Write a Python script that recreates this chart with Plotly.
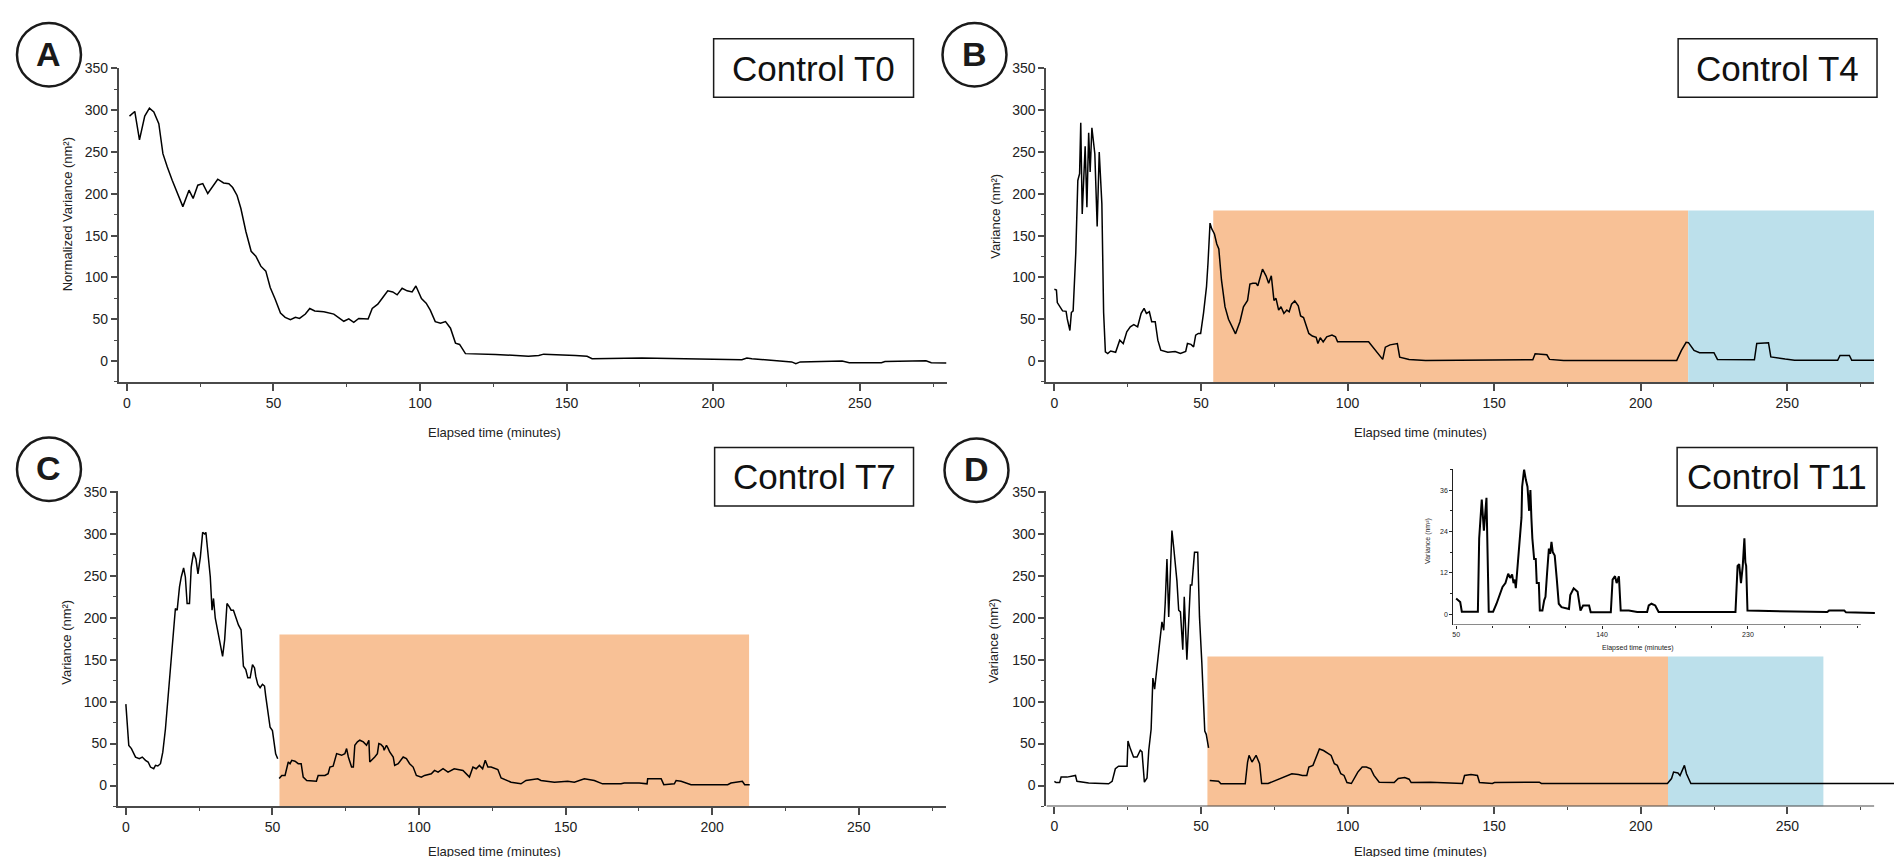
import plotly.graph_objects as go

W, H = 1902, 857

# ---- data (time in minutes, variance in nm^2) ----
a_t = [0.9, 2.7, 4.3, 6.1, 7.7, 9.2, 10.9, 12.3, 13.8, 15.5,
       19.1, 21.2, 22.6, 24.2, 25.9, 27.6, 31.0, 33.0, 34.8, 36.1,
       37.6, 38.9, 40.6, 42.4, 44.0, 45.7, 47.4, 48.9, 50.6, 52.4,
       54.0, 55.8, 57.5, 58.9, 60.9, 62.4, 64.1, 67.2, 70.6, 72.3,
       74.0, 75.7, 77.4, 79.1, 82.3, 83.7, 85.6, 87.3, 89.0, 90.7,
       92.2, 93.9, 95.6, 97.3, 98.6, 100.5, 102.1, 103.5, 105.2, 107.0,
       108.7, 110.4, 112.1, 113.5, 115.5, 125.7, 137.0, 140.5, 142.2, 153.0,
       157.0, 158.7, 175.7, 209.8, 211.5, 213.2, 226.8, 228.2, 229.7, 244.0,
       246.4, 257.4, 258.6, 272.6, 274.4, 279.6]
a_v = [293, 298.5, 264.5, 293, 302.5, 298, 284, 248, 232, 216,
       184.7, 204.4, 194.5, 210.3, 212.3, 200.4, 217.5, 213, 212, 207.5,
       198, 182.4, 155, 131.3, 125.4, 113.5, 107.6, 88, 74, 57.4,
       52.3, 49.5, 52.3, 51, 56.2, 62.9, 60, 59, 56.2, 52.3,
       47.6, 50.4, 46.4, 51, 50.4, 62.9, 68, 76, 84, 82.7,
       79.2, 87.1, 84, 82.7, 89.8, 74.8, 69.2, 60.9, 47.2, 45.2,
       47.2, 39.3, 21.5, 19.9, 8.9, 8, 5.7, 6.8, 8.3, 6.8,
       5.7, 2.9, 3.6, 1.6, 3.6, 2.9, -1, -3, -1, 0,
       -2, -2, -0.6, 0.4, -2, -2.4]

b_t = [0, 0.7, 1.0, 1.8, 2.8, 4.0, 4.4, 5.3, 5.8, 6.4,
       7.3, 8.0, 8.6, 9.0, 9.5, 10.5, 11.1, 11.7, 12.2, 12.8,
       13.8, 14.6, 15.3, 16.2, 16.8, 17.4, 18.2, 19.2, 20.9, 22.3,
       23.5, 24.7, 25.9, 27.1, 28.4, 29.6, 30.6, 31.4, 32.4, 33.2,
       34.4, 35.3, 36.3, 38.7, 41.2, 43.0, 44.8, 45.4, 46.6, 47.5,
       48.2, 49.1, 49.9, 50.9, 51.9, 52.4, 53.1, 53.7, 54.6, 55.4,
       56.1, 57.0, 57.6, 58.2, 59.4, 60.7, 61.8, 63.3, 64.5, 65.9,
       66.7, 67.7, 68.8, 69.4, 70.1, 71.0, 72.2, 73.1, 74.0, 74.9,
       75.6, 76.5, 77.3, 78.3, 79.3, 80.1, 80.9, 82.0, 83.2, 84.0,
       85.0, 86.0, 86.8, 88.0, 89.3, 89.9, 90.7, 91.7, 92.9, 94.7,
       95.9, 96.6, 107.2, 112.0, 112.9, 114.5, 117.0, 117.8, 121.0, 126.6,
       163.2, 164.0, 168.0, 168.9, 173.7, 212.3, 213.9, 215.5, 216.3, 218.2,
       220.1, 225.0, 226.2, 238.8, 239.6, 243.6, 244.4, 249.3, 252.5, 267.2,
       268.0, 271.2, 272.0, 279.6]
b_v = [85.8, 85, 70, 66, 60, 59.5, 50.4, 36.6, 58, 60,
       129, 216, 224, 285, 176, 257, 184, 273, 226, 279,
       248, 161, 250, 188, 58, 11, 9, 12, 10.5, 25,
       21, 35, 41, 43.5, 41, 57, 63, 57, 59, 47,
       47, 25, 13, 10.5, 11.5, 9, 11.5, 21, 20, 17,
       31, 33, 33, 58, 89, 117, 165, 158, 152, 140,
       134, 97, 79, 65, 50, 40, 32.6, 47, 65, 72.5,
       92, 93, 93, 90, 100, 110, 102, 93, 102, 72.5,
       75, 61, 65, 57, 61, 59, 68, 72, 66, 54,
       52, 42, 33, 30, 28.5, 21, 28, 23, 29, 31,
       29, 23, 23, 2, 16.6, 19.4, 21, 4.6, 2, 0.8,
       1.6, 8.7, 7.5, 2, 0.8, 0.8, 12.7, 22.5, 22, 12.7,
       10, 10, 2, 1.6, 21, 22, 5, 2.4, 1, 1,
       6.7, 6.7, 1, 1]

# panel C: trace before and after the treatment start
c_t1 = [0, 1.0, 1.9, 3.3, 4.6, 5.6, 6.7, 7.6, 8.4, 9.5,
        10.1, 10.9, 11.8, 12.6, 13.5, 14.4, 15.2, 16.1, 16.9, 17.5,
        18.3, 18.9, 19.7, 20.3, 20.9, 21.7, 22.3, 23.1, 23.9, 24.6,
        25.4, 26.2, 26.9, 27.3, 28.0, 28.8, 29.4, 29.9, 30.5, 31.4,
        32.2, 33.0, 33.7, 34.5, 35.3, 35.9, 36.7, 37.5, 38.4, 39.3,
        40.1, 40.9, 41.6, 42.4, 43.2, 43.9, 44.3, 45.0, 45.8, 46.6,
        47.3, 47.7, 48.6, 49.2, 50.0, 50.6, 51.1, 51.8]
c_v1 = [97, 47.7, 44, 33.9, 32, 33.9, 30, 28, 22, 20,
        24, 23.3, 26, 39.8, 67.4, 106.8, 146, 185.6, 211, 209,
        236.8, 248.6, 259.3, 248.6, 217, 217, 260.4, 278, 270, 252.4,
        272, 301.8, 299.8, 301.8, 278, 248.6, 209, 223, 199.4, 181.6,
        169.8, 154, 173.7, 217, 213, 209, 209, 199.4, 191.5, 185.6,
        142.2, 138.3, 128.4, 128.4, 144.2, 140.2, 130.4, 120.6, 116.7, 120.6,
        118.6, 106.8, 83.1, 69.4, 65.4, 51.6, 37.8, 32]
c_t2 = [52.3, 53.2, 54.3, 55.4, 56.0, 56.6, 57.7, 58.8, 59.8, 60.5,
        61.7, 62.8, 65.0, 65.6, 67.9, 69.0, 69.6, 70.7, 71.9, 73.6,
        74.7, 75.3, 75.9, 77.0, 77.6, 78.1, 79.0, 79.8, 81.0, 82.1,
        82.9, 83.2, 84.4, 84.9, 85.8, 86.3, 87.0, 87.8, 88.1, 88.9,
        89.5, 90.0, 91.2, 91.7, 92.9, 94.6, 95.7, 96.8, 98.0, 99.1,
        100.8, 101.9, 104.2, 105.3, 106.5, 108.2, 109.9, 112.0, 115.0, 117.2,
        118.4, 119.5, 120.6, 121.7, 122.6, 123.5, 124.6, 126.9, 128.0, 131.4,
        134.8, 136.5, 140.5, 141.6, 146.2, 150.7, 153.0, 156.4, 159.8, 162.6,
        168.9, 170.0, 175.1, 177.8, 178.0, 182.6, 183.5, 187.1, 187.7, 189.4,
        192.8, 205.3, 206.4, 210.3, 211.1, 212.8]
c_v2 = [8.3, 12, 12, 28, 26, 30, 29, 26, 26, 10,
        6, 5.4, 5, 12, 12, 14, 22, 23, 38, 36,
        38, 44, 34, 22, 22, 48, 52, 54, 52, 48,
        54, 28, 32, 34, 38, 50, 49, 46, 42, 48,
        44, 40, 34, 24, 26, 34, 32, 26, 22, 12,
        10, 12, 14, 18, 16, 20, 16, 20, 18, 10,
        22, 20, 24, 20, 30, 22, 22, 19, 9, 4,
        2, 6, 8, 6, 4, 5, 4, 8, 6, 2,
        2, 3, 3, 2, 8, 8, 1, 2, 6, 5,
        1, 1, 3, 5, 1, 1]

# panel D
d_t1 = [0, 0.6, 1.8, 2.3, 4.3, 6.0, 7.2, 7.7, 10.6, 11.7,
        18.5, 19.7, 20.8, 21.9, 24.8, 25.1, 25.9, 27.0, 28.2, 29.3,
        29.9, 30.7, 31.6, 32.2, 33.0, 33.6, 34.2, 35.0, 35.9, 36.7,
        37.3, 37.8, 38.4, 39.0, 39.5, 40.1, 40.7, 41.8, 42.4, 43.0,
        43.8, 44.3, 45.2, 46.4, 46.9, 47.8, 48.9, 49.5, 50.3, 51.3,
        51.8, 52.6]
d_v1 = [5, 3.5, 3.5, 10, 10, 11, 12, 5, 4, 3,
        2, 5, 20, 23, 23, 53, 44, 34, 34, 42,
        40, 4, 9, 42, 67, 128, 115, 138, 170, 195,
        185, 217, 270, 201, 249, 304, 284, 244, 209, 207,
        162, 225, 150, 239, 239, 278, 278, 201, 146, 65,
        61, 45]
d_t2 = [53.0, 56.0, 56.8, 65.1, 65.9, 66.4, 67.4, 68.8, 70.0, 70.7,
        72.9, 77.3, 81.0, 83.2, 84.6, 86.1, 86.8, 88.2, 90.4, 91.8,
        93.3, 94.4, 95.5, 96.5, 97.7, 98.8, 99.8, 101.3, 103.5, 105.0,
        106.4, 107.9, 109.0, 110.8, 115.9, 117.3, 119.5, 121.0, 121.7, 128.3,
        139.2, 139.9, 142.1, 144.3, 145.0, 149.4, 150.1, 154.5, 161.0, 165.4,
        166.1, 209.1, 210.5, 211.2, 212.7, 213.4, 214.9, 215.6, 217.1, 289.1]
d_v2 = [6, 5, 2, 2, 28, 36, 28, 36, 26, 2.4,
        2.4, 8.3, 14, 13, 12, 12, 22, 24, 43.6, 41.7,
        37.8, 35.9, 26, 24, 14, 12, 3.5, 2.4, 16, 22,
        22, 20, 12, 4, 3.5, 8.3, 9.5, 7.5, 3.5, 4,
        2.4, 12, 13, 12, 3.5, 2.4, 3.5, 3.5, 4, 4,
        2.4, 2.4, 8.3, 16, 15, 12, 24, 14, 2.4, 2.4]

# inset of panel D (zoom on the treated part)
ins_t = [50.0, 51.5, 52.5, 53.5, 63.4, 64.2, 65.8, 67.1, 68.7, 70.1,
         72.8, 74.9, 76.9, 78.6, 80.4, 82.1, 83.3, 84.5, 85.4, 86.2,
         86.8, 87.8, 88.8, 89.5, 90.3, 90.7, 91.9, 93.0, 94.0, 95.0,
         95.8, 96.4, 97.0, 98.1, 99.1, 99.7, 101.0, 101.6, 103.2, 104.3,
         105.1, 106.1, 107.2, 108.0, 108.8, 109.6, 110.8, 112.1, 113.3, 115.0,
         119.6, 120.4, 122.5, 124.9, 126.7, 128.3, 132.0, 133.0, 145.4, 146.5,
         148.0, 149.0, 150.4, 151.5, 156.5, 161.7, 167.8, 168.8, 170.5, 172.8,
         174.9, 222.3, 223.6, 224.6, 225.7, 226.8, 227.8, 228.4, 228.9, 229.7,
         278.9, 280.0, 289.4, 290.5, 308.3]
ins_v = [4.5, 4.0, 3.5, 0.7, 0.7, 22, 33.3, 24.2, 33.8, 0.7,
         0.7, 3, 6, 7.9, 9, 11.7, 10.5, 11.5, 9, 10,
         7.5, 14, 20, 24, 28, 37, 42, 39, 37, 30,
         36, 28, 22, 16, 16, 9, 9, 1, 1, 4,
         5, 12, 19, 17.5, 21, 18, 17, 10, 3, 2,
         1.5, 5.5, 7.5, 6.5, 1, 2.5, 2.5, 0.5, 0.5, 10,
         11, 9, 11, 1, 1, 0.6, 0.6, 2.5, 3, 2.5,
         0.6, 0.6, 14, 14.5, 9, 14, 22, 15, 14, 1,
         0.6, 1, 1, 0.5, 0.3]

# shaded phases: (start, end, top) per panel
b_orange = (54.2, 216.2, 180)
b_blue = (216.2, 279.6, 180)
c_orange = (52.4, 212.6, 180)
d_orange = (52.2, 209.3, 153.7)
d_blue = (209.3, 262.3, 153.7)

panel_titles = ["Control T0", "Control T4", "Control T7", "Control T11"]
panel_letters = ["A", "B", "C", "D"]
y_titles = ["Normalized Variance (nm²)", "Variance (nm²)", "Variance (nm²)", "Variance (nm²)"]

ORANGE = "#F8C196"
BLUE = "#BCE0EB"
AXIS = "#4a4a4a"
FONT = "Liberation Sans, Arial, sans-serif"


def px(x):
    return x / W


def py(y):
    return 1 - y / H


fig = go.Figure()

line = dict(color="black", width=1.5)
fig.add_trace(go.Scatter(x=a_t, y=a_v, mode="lines", line=line, xaxis="x", yaxis="y"))
fig.add_trace(go.Scatter(x=b_t, y=b_v, mode="lines", line=line, xaxis="x2", yaxis="y2"))
fig.add_trace(go.Scatter(x=c_t1, y=c_v1, mode="lines", line=line, xaxis="x3", yaxis="y3"))
fig.add_trace(go.Scatter(x=c_t2, y=c_v2, mode="lines", line=line, xaxis="x3", yaxis="y3"))
fig.add_trace(go.Scatter(x=d_t1, y=d_v1, mode="lines", line=line, xaxis="x4", yaxis="y4"))
fig.add_trace(go.Scatter(x=d_t2, y=d_v2, mode="lines", line=line, xaxis="x4", yaxis="y4"))
fig.add_trace(go.Scatter(x=ins_t, y=ins_v, mode="lines", line=dict(color="black", width=2),
                         xaxis="x5", yaxis="y5"))

# main axes
tickfont = dict(family=FONT, size=14, color="#222")


def xax(domain, rng, anchor, showline=True):
    return dict(domain=domain, range=rng, anchor=anchor, showgrid=False, zeroline=False,
                showline=showline, linecolor=AXIS, linewidth=2,
                ticks="outside", ticklen=7, tickwidth=1.5, tickcolor=AXIS,
                tick0=0, dtick=50, tickfont=tickfont,
                minor=dict(ticks="outside", ticklen=3, tickwidth=1.2, tickcolor=AXIS, dtick=25, tick0=0))


def yax(domain, anchor):
    return dict(domain=domain, range=[-25, 351], anchor=anchor, showgrid=False, zeroline=False,
                showline=True, linecolor=AXIS, linewidth=2,
                ticks="outside", ticklen=6, tickwidth=1.5, tickcolor=AXIS,
                tick0=0, dtick=50, tickfont=tickfont,
                minor=dict(ticks="outside", ticklen=3, tickwidth=1.2, tickcolor=AXIS, dtick=25, tick0=0))


top_dom = [py(370), py(53)]
bot_dom = [py(798), py(480)]
left_dom = [px(110), px(938)]
right_dom = [px(1038), px(1866)]

fig.update_layout(
    xaxis=xax(left_dom, [-2.7, 279.6], "y"),
    yaxis=yax(top_dom, "x"),
    xaxis2=xax(right_dom, [-2.7, 279.6], "y2"),
    yaxis2=yax(top_dom, "x2"),
    xaxis3=xax([px(109), px(937)], [-2.7, 279.6], "y3"),
    yaxis3=yax(bot_dom, "x3"),
    xaxis4=xax([px(1038), px(1896.6)], [-2.7, 290], "y4", showline=False),
    yaxis4=yax(bot_dom, "x4"),
    xaxis5=dict(domain=[px(1445), px(1868)], range=[48.2, 309], anchor="y5",
                showgrid=False, zeroline=False, showline=False,
                ticks="outside", ticklen=3, tickwidth=1, tickcolor="#222",
                tickvals=[50, 140, 230], tickfont=dict(family=FONT, size=7, color="#222"),
                minor=dict(ticks="outside", ticklen=2, tickwidth=1, tickcolor="#222",
                           tick0=50, dtick=22.5)),
    yaxis5=dict(domain=[py(615), py(458)], range=[-3.17, 42.07], anchor="x5",
                showgrid=False, zeroline=False, showline=True, linecolor="#222", linewidth=1,
                ticks="outside", ticklen=3, tickwidth=1, tickcolor="#222",
                tickvals=[0, 12, 24, 36], tickfont=dict(family=FONT, size=7, color="#222"),
                minor=dict(ticks="outside", ticklen=2, tickwidth=1, tickcolor="#222",
                           tick0=0, dtick=6)),
)

shapes = []
# phase shading
for (x0, x1, top), col, ax in [(b_orange, ORANGE, "2"), (b_blue, BLUE, "2"),
                               (c_orange, ORANGE, "3"),
                               (d_orange, ORANGE, "4"), (d_blue, BLUE, "4")]:
    shapes.append(dict(type="rect", xref="x" + ax, yref="y" + ax, x0=x0, x1=x1, y0=-25, y1=top,
                       fillcolor=col, line=dict(width=0), layer="below"))

# x axis lines that stop before the data does
shapes.append(dict(type="line", xref="x4", yref="y4", x0=-2.7, x1=279.6, y0=-25, y1=-25,
                   line=dict(color=AXIS, width=2)))
shapes.append(dict(type="line", xref="x5", yref="y5", x0=48.2, x1=299.7, y0=-3.17, y1=-3.17,
                   line=dict(color="#222", width=1)))

# lettered circles
circles = [(40, 40), (966, 40), (40, 458), (968, 459)]
for cx, cy in circles:
    shapes.append(dict(type="circle", xref="paper", yref="paper",
                       x0=px(cx - 32), x1=px(cx + 32), y0=py(cy + 32), y1=py(cy - 32),
                       line=dict(color="#1a1a1a", width=2.5)))

# title boxes
boxes = [(705, 24, 905, 83), (1670, 24, 1869, 83), (706, 436, 905, 495), (1669, 436, 1869, 495)]
for x0, y0, x1, y1 in boxes:
    shapes.append(dict(type="rect", xref="paper", yref="paper",
                       x0=px(x0), x1=px(x1), y0=py(y1), y1=py(y0),
                       line=dict(color="#1a1a1a", width=1.5), fillcolor="white"))

ann = []


def label(x, y, text, size, angle=0, color="#222"):
    ann.append(dict(x=px(x), y=py(y), text=text, textangle=angle, showarrow=False,
                    xref="paper", yref="paper", xanchor="center", yanchor="middle",
                    font=dict(family=FONT, size=size, color=color)))


for (cx, cy), letter in zip(circles, panel_letters):
    label(cx, cy - 1, "<b>" + letter + "</b>", 34, color="#1a1a1a")
for (x0, y0, x1, y1), title in zip(boxes, panel_titles):
    label((x0 + x1) / 2, (y0 + y1) / 2, title, 35, color="#111")

ytitle_pos = [(58, 201), (987, 203), (58, 632), (985, 631)]
for (x, y), t in zip(ytitle_pos, y_titles):
    label(x, y, t, 13, angle=-90)

for x, y in [(486, 421), (1412, 421), (486, 843), (1412, 843)]:
    label(x, y, "Elapsed time (minutes)", 13)

# inset titles
label(1630, 638, "Elapsed time (minutes)", 7)
label(1419, 530, "Variance (nm²)", 7, angle=-90)

fig.update_layout(
    width=W, height=H,
    margin=dict(l=0, r=0, t=0, b=0),
    paper_bgcolor="white", plot_bgcolor="rgba(0,0,0,0)",
    showlegend=False,
    shapes=shapes,
    annotations=ann,
    font=dict(family=FONT),
)

fig.write_html("out.html")
